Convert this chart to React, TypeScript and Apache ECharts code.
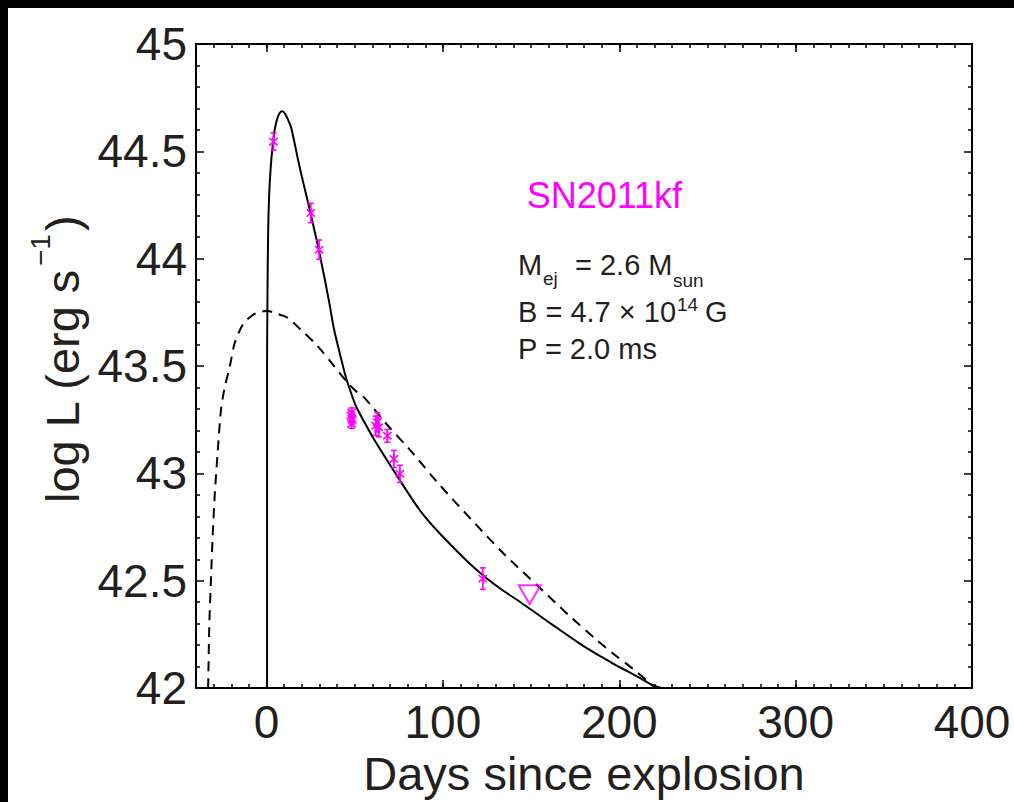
import { useEffect, useRef } from 'react';
import * as echarts from 'echarts';

const FONT = "'Liberation Sans', Arial, Helvetica, sans-serif";
const INK = '#231f20';
const MAGENTA = '#ff00ff';

// Magnetar model light curve (solid)
const solidDays = [0.3, 0.3, 0.5, 0.9, 1.5, 2.4, 3.4, 4.6, 6, 7.5, 9, 10.5, 12, 13.8, 15.6, 17.5, 19.5, 21.5, 23.3, 25.1, 27.2, 29.3, 31.4, 33.6, 35.9, 38.3, 41.5, 44.9, 47.7, 50.6, 55.5, 60.5, 66.5, 72.5, 80, 87.5, 96.5, 106.5, 114.5, 123.5, 133.5, 144, 153.5, 163, 178, 190, 197, 210, 219.5, 226.5];
const solidLogL = [42.0, 43.5, 43.8, 44.12, 44.3, 44.43, 44.52, 44.6, 44.65, 44.68, 44.687, 44.675, 44.65, 44.615, 44.55, 44.475, 44.4, 44.33, 44.27, 44.207, 44.13, 44.055, 43.97, 43.88, 43.78, 43.67, 43.56, 43.45, 43.38, 43.315, 43.238, 43.165, 43.085, 43.008, 42.912, 42.822, 42.735, 42.65, 42.585, 42.52, 42.458, 42.4, 42.345, 42.29, 42.205, 42.145, 42.112, 42.055, 42.012, 41.995];

// Alternative model (dashed)
const dashedDays = [-33.1, -32.5, -31.5, -30.6, -29.3, -27.7, -25.9, -24.0, -20.8, -18.3, -15.5, -12.9, -9, -5, -2, 0.6, 4, 8, 11.9, 19.4, 28.9, 38.3, 45.9, 50.6, 55.3, 68, 81.7, 96.8, 115.7, 134.5, 153.4, 171.3, 187.5, 196.6, 207.7, 220.5];
const dashedLogL = [42.0, 42.28, 42.51, 42.7, 42.91, 43.1, 43.29, 43.39, 43.5, 43.6, 43.66, 43.7, 43.73, 43.75, 43.755, 43.756, 43.75, 43.738, 43.725, 43.67, 43.593, 43.5, 43.423, 43.384, 43.354, 43.23, 43.106, 42.959, 42.789, 42.626, 42.479, 42.34, 42.222, 42.16, 42.09, 42.0];

// Observations
const obsDays = [3.96, 25.1, 29.8, 47.8, 48.3, 48.6, 48.2, 61.9, 62.8, 63.7, 68.5, 72.2, 75.6, 122.6];
const obsLogL = [44.545, 44.213, 44.042, 43.27, 43.285, 43.25, 43.23, 43.222, 43.238, 43.215, 43.175, 43.067, 42.998, 42.51];
const obsErr = [0.04, 0.045, 0.045, 0.02, 0.02, 0.02, 0.02, 0.045, 0.045, 0.045, 0.03, 0.04, 0.04, 0.05];

// Upper limit
const limitDays = [149.2];
const limitLogL = [42.435];

const xMajorTicks = [0, 100, 200, 300, 400];

const solidData = solidDays.map((d, i) => [d, solidLogL[i]]);
const dashedData = dashedDays.map((d, i) => [d, dashedLogL[i]]);
const obsData = obsDays.map((d, i) => [d, obsLogL[i], obsErr[i]]);
const limitData = limitDays.map((d, i) => [d, limitLogL[i]]);

function txt(text: string, x: number, y: number, size: number, color = INK) {
  return {
    type: 'text',
    x,
    y,
    silent: true,
    style: {
      text,
      fill: color,
      fontSize: size,
      fontFamily: FONT,
      textAlign: 'left',
      verticalAlign: 'middle',
      textVerticalAlign: 'middle',
    },
  };
}

const lineStyleAxis = { color: '#000', width: 2 };
const tickStyle = { color: '#000', width: 1.5 };

export default function App() {
  const ref = useRef<HTMLDivElement>(null);
  useEffect(() => {
    document.body.style.margin = '0';
    document.body.style.background = '#fff';
    const chart = echarts.init(ref.current!, null, { renderer: 'svg' });
    const baseX = { type: 'value', min: -40, max: 400, splitLine: { show: false } };
    const baseY = { type: 'value', min: 42, max: 45, interval: 0.5, splitLine: { show: false } };
    chart.setOption({
      animation: false,
      backgroundColor: '#fff',
      grid: { left: 188, top: 36, right: 42, bottom: 112, containLabel: false },
      xAxis: [
        {
          ...baseX,
          position: 'bottom',
          axisLine: { show: true, onZero: false, lineStyle: lineStyleAxis },
          axisTick: { show: true, inside: true, length: 8, lineStyle: tickStyle, customValues: xMajorTicks },
          axisLabel: {
            show: true,
            customValues: xMajorTicks,
            fontSize: 46,
            fontFamily: FONT,
            color: INK,
            margin: 11,
            formatter: (v: number) => String(v),
          },
          name: 'Days since explosion',
          nameLocation: 'middle',
          nameGap: 55,
          nameTextStyle: { fontSize: 47, fontFamily: FONT, color: INK },
        },
        {
          ...baseX,
          position: 'bottom',
          interval: 10,
          axisLine: { show: false, onZero: false },
          axisTick: { show: true, inside: true, length: 4, lineStyle: tickStyle },
          axisLabel: { show: false },
        },
        {
          ...baseX,
          position: 'top',
          axisLine: { show: true, onZero: false, lineStyle: lineStyleAxis },
          axisTick: { show: true, inside: true, length: 8, lineStyle: tickStyle, customValues: xMajorTicks },
          axisLabel: { show: false },
        },
        {
          ...baseX,
          position: 'top',
          interval: 10,
          axisLine: { show: false, onZero: false },
          axisTick: { show: true, inside: true, length: 4, lineStyle: tickStyle },
          axisLabel: { show: false },
        },
      ],
      yAxis: [
        {
          ...baseY,
          position: 'left',
          axisLine: { show: true, onZero: false, lineStyle: lineStyleAxis },
          axisTick: { show: true, inside: true, length: 8, lineStyle: tickStyle },
          minorTick: { show: true, splitNumber: 5, length: 4, lineStyle: tickStyle },
          axisLabel: {
            show: true,
            fontSize: 46,
            fontFamily: FONT,
            color: INK,
            margin: 9,
            formatter: (v: number) => String(v),
          },
        },
        {
          ...baseY,
          position: 'right',
          axisLine: { show: true, onZero: false, lineStyle: lineStyleAxis },
          axisTick: { show: true, inside: true, length: 8, lineStyle: tickStyle },
          minorTick: { show: true, splitNumber: 5, length: 4, lineStyle: tickStyle },
          axisLabel: { show: false },
        },
      ],
      series: [
        {
          name: 'dashed model',
          type: 'line',
          data: dashedData,
          showSymbol: false,
          symbol: 'none',
          smooth: 0.3,
          lineStyle: { color: '#000', width: 2, type: [10, 7] },
          z: 2,
        },
        {
          name: 'magnetar model',
          type: 'line',
          data: solidData,
          showSymbol: false,
          symbol: 'none',
          smooth: 0.3,
          lineStyle: { color: '#000', width: 2 },
          z: 3,
        },
        {
          name: 'SN2011kf',
          type: 'custom',
          data: obsData,
          z: 5,
          renderItem: (params: any, api: any) => {
            const x = api.value(0);
            const y = api.value(1);
            const e = api.value(2);
            const p = api.coord([x, y]);
            const t = api.coord([x, y + e]);
            const b = api.coord([x, y - e]);
            const st = { stroke: MAGENTA, lineWidth: 1.6, fill: 'none' };
            const cap = 3;
            const ax = 4.2;
            const ay = 3.6;
            return {
              type: 'group',
              children: [
                { type: 'line', shape: { x1: p[0], y1: t[1], x2: p[0], y2: b[1] }, style: st },
                { type: 'line', shape: { x1: p[0] - cap, y1: t[1], x2: p[0] + cap, y2: t[1] }, style: st },
                { type: 'line', shape: { x1: p[0] - cap, y1: b[1], x2: p[0] + cap, y2: b[1] }, style: st },
                { type: 'line', shape: { x1: p[0] - ax, y1: p[1] - ay, x2: p[0] + ax, y2: p[1] + ay }, style: st },
                { type: 'line', shape: { x1: p[0] - ax, y1: p[1] + ay, x2: p[0] + ax, y2: p[1] - ay }, style: st },
                { type: 'line', shape: { x1: p[0], y1: p[1] - 5, x2: p[0], y2: p[1] + 5 }, style: st },
              ],
            };
          },
        },
        {
          name: 'upper limit',
          type: 'scatter',
          data: limitData,
          symbol: 'triangle',
          symbolRotate: 180,
          symbolSize: [22, 19],
          itemStyle: { color: 'rgba(255,255,255,0)', borderColor: MAGENTA, borderWidth: 2 },
          z: 6,
        },
      ],
      graphic: [
        {
          type: 'group',
          x: 71,
          y: 495,
          rotation: Math.PI / 2,
          children: [
            txt('log L (erg s', 0, -16.7, 47),
            txt('\u22121', 237, -39, 28),
            txt(')', 272, -16.7, 47),
          ],
        },
        txt('SN2011kf', 518.7, 187.5, 36, MAGENTA),
        txt('M', 510, 256.7, 29),
        txt('ej', 535, 270.8, 19),
        txt('= 2.6 M', 567, 256.7, 29),
        txt('sun', 665, 272.3, 19),
        txt('B = 4.7 \u00d7 10', 510, 303.7, 29),
        txt('14', 669, 296.3, 19),
        txt('G', 697, 303.7, 29),
        txt('P = 2.0 ms', 510, 341, 29),
      ],
    });
    return () => chart.dispose();
  }, []);
  return (
    <div
      style={{
        width: 1014,
        height: 802,
        background: '#fff',
        boxSizing: 'border-box',
        borderTop: '8px solid #000',
        borderLeft: '8px solid #000',
        overflow: 'hidden',
      }}
    >
      <div ref={ref} style={{ width: 1006, height: 794, background: '#fff' }} />
    </div>
  );
}
